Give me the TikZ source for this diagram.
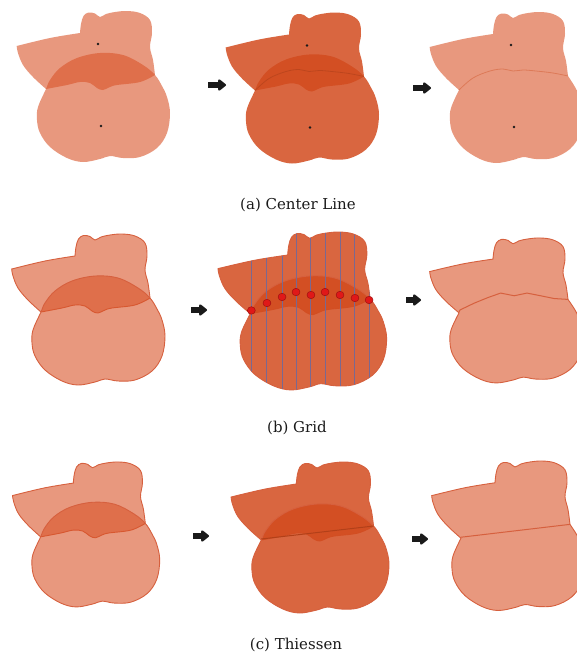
\documentclass[tikz,border=0pt]{standalone}
\usepackage{fontspec}
\setmainfont{DejaVu Serif}
\usetikzlibrary{arrows.meta}
\definecolor{Blush}{HTML}{D95328}
\definecolor{Rust}{HTML}{D24B1E}
\definecolor{Salmon}{HTML}{E8987E}
\definecolor{Edge}{HTML}{D6603E}
\definecolor{Seam}{HTML}{DD7A58}
\definecolor{Grid}{HTML}{7A6890}
\definecolor{Pin}{HTML}{E01818}
\definecolor{Ink}{HTML}{1A1A1A}

% outlines of the two regions (base panel, y grows downwards)
\newcommand{\uppertop}{%
  plot[smooth,tension=.6] coordinates {(46,89) (33,77) (23,65) (18,53) (16.7,46)}
  -- plot[smooth,tension=.6] coordinates {(16.7,46) (50,38) (80,33)}
  -- plot[smooth,tension=.6] coordinates {(80,33) (81,24) (83.5,16) (88.5,12.5) (95,13.5) (100,17) (106,14) (115,12) (127,11) (140,13) (150,20) (152,33) (150,47) (153,60) (155,75)}}
\newcommand{\uppershape}{\uppertop
  -- plot[smooth,tension=.6] coordinates {(155,75) (140,82) (117,85) (110,87) (103,90) (97,88) (90,83) (80,82) (67,85) (46,89)} -- cycle}
\newcommand{\lowershape}{%
  plot[smooth cycle,tension=.6] coordinates {(46,89) (50,80) (60,68) (77,58) (100,53) (123,55) (143,65) (155,75) (162,86) (167,97) (170,113) (167,133) (157,148) (140,157) (123,158) (110,156) (100,159) (83,162) (67,158) (50,147) (40,133) (37,120) (38,107)}}
\newcommand{\mergedshape}{\uppertop
  -- plot[smooth,tension=.6] coordinates {(155,75) (162,86) (167,97) (170,113) (167,133) (157,148) (140,157) (123,158) (110,156) (100,159) (83,162) (67,158) (50,147) (40,133) (37,120) (38,107) (46,89)} -- cycle}
% dividing lines
\newcommand{\midseam}{plot[smooth,tension=.6] coordinates {(46,89) (60,77) (77,70) (90,68) (100,70) (110,69) (123,70) (140,72) (155,75)}}
\newcommand{\gridseam}{plot coordinates {(46,88) (47,86) (61.2,78.9) (74.9,73.1) (87.6,68.4) (101.2,71.2) (114,68.4) (127.6,71.2) (141.2,74.1) (155,75)}}
\newcommand{\thiessenseam}{(46,88) -- (155,75)}
\newcommand{\centroids}{\fill[Ink] (98,44) circle[radius=1.3] (101,126) circle[radius=1.3];}

\tikzset{
  light/.style={fill=Blush,fill opacity=.6},
  dark/.style={fill=Rust,fill opacity=.85},
  merged/.style={fill=Salmon},
  outlined/.style={draw=Edge,line width=.9pt},
  seamline/.style={draw=Edge,line width=1pt},
  gridline/.style={draw=Grid,line width=1pt},
  pin/.style={fill=Pin,draw=Pin!70!black,line width=.5pt},
  flowarrow/.style={-{Triangle[length=8.5pt,width=13pt,round]},line width=6pt,Ink},
  caption/.style={font=\fontsize{15}{18}\selectfont,text=Ink},
}

\begin{document}
\begin{tikzpicture}[x=1pt,y=-1pt]
  \useasboundingbox (0,0) rectangle (577,657);

  % (a) center line
  \begin{scope}
    \fill[light] \uppershape;
    \fill[light] \lowershape;
    \centroids
  \end{scope}
  \begin{scope}[shift={(209,1.5)}]
    \fill[dark] \uppershape;
    \fill[dark] \lowershape;
    \draw[Rust!80!black,line width=.8pt,opacity=.5] \midseam;
    \centroids
  \end{scope}
  \begin{scope}[shift={(413,1)}]
    \fill[merged] \mergedshape;
    \draw[Seam,line width=.8pt] \midseam;
    \centroids
  \end{scope}
  \draw[flowarrow] (208,85) -- (226,85);
  \draw[flowarrow] (413,88) -- (431,88);
  \node[caption] (capa) at (298,205) {(a) Center Line};

  % (b) grid
  \begin{scope}[shift={(-5,223)}]
    \path[light,outlined] \uppershape;
    \path[light,outlined] \lowershape;
  \end{scope}
  \begin{scope}[shift={(199.65,220.5)},xscale=1.1,yscale=1.046]
    \path[dark,outlined] \uppershape;
    \path[dark,outlined] \lowershape;
    \begin{scope}
      \clip \mergedshape;
      \foreach \x in {47,61.2,74.9,87.6,101.2,114,127.6,141.2,154}
        \draw[gridline] (\x,0) -- (\x,175);
    \end{scope}
    \foreach \x/\y in {47/86,61.2/78.9,74.9/73.1,87.6/68.4,101.2/71.2,114/68.4,127.6/71.2,141.2/74.1,154/76}
      \path[pin] (\x,\y) circle[radius=3.6];
  \end{scope}
  \begin{scope}[shift={(413,227.4)},yscale=.96]
    \path[merged,outlined] \mergedshape;
    \draw[seamline] \gridseam;
  \end{scope}
  \draw[flowarrow] (191,310) -- (207,310);
  \draw[flowarrow] (406,300) -- (421,300);
  \node[caption] (capb) at (297,428) {(b) Grid};

  % (c) thiessen
  \begin{scope}[shift={(-3.5,451.4)},scale=.96]
    \path[light,outlined] \uppershape;
    \path[light,outlined] \lowershape;
  \end{scope}
  \begin{scope}[shift={(213.9,451)},xscale=1.03]
    \path[dark,outlined] \uppershape;
    \path[dark,outlined] \lowershape;
    \draw[seamline,draw=Rust!85!black] \thiessenseam;
  \end{scope}
  \begin{scope}[shift={(415,450.1)},yscale=.99]
    \path[merged,outlined] \mergedshape;
    \draw[seamline] \thiessenseam;
  \end{scope}
  \draw[flowarrow] (193,536) -- (209,536);
  \draw[flowarrow] (412,539) -- (428,539);
  \node[caption] (capc) at (296,645) {(c) Thiessen};
\end{tikzpicture}
\end{document}
